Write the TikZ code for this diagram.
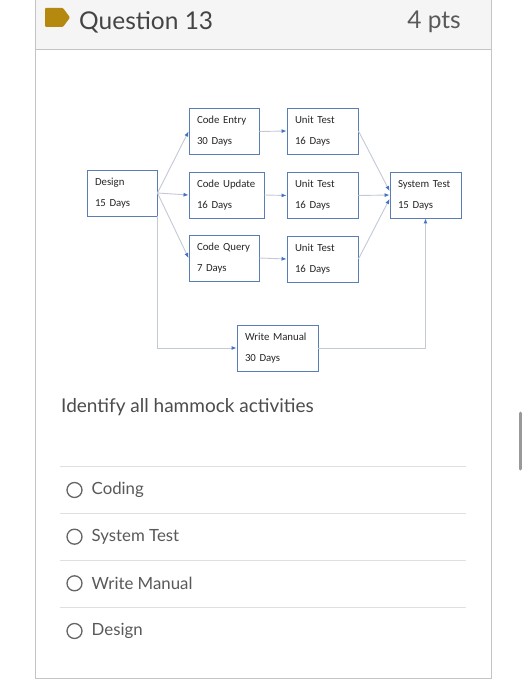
\documentclass[tikz,border=0pt]{standalone}
\usepackage{fontspec}
\setmainfont{Lato}
\newfontfamily\chartfont{Carlito}
\usetikzlibrary{arrows.meta,positioning}
\definecolor{tagfill}{HTML}{B5890F}
\definecolor{headfill}{HTML}{F5F5F5}
\definecolor{cardline}{HTML}{C4C4C4}
\definecolor{rulegray}{HTML}{E0E0E0}
\definecolor{boxblue}{HTML}{5B7DB5}
\definecolor{linkgray}{HTML}{C3CAD6}
\definecolor{tipblue}{HTML}{4472C4}
\definecolor{ink}{HTML}{444444}
\tikzset{
  task/.style={
    draw=boxblue,
    line width=0.9pt,
    fill=white,
    font=\chartfont\fontsize{10.8}{21}\selectfont,
    text=black!85,
    align=left,
    minimum height=46pt,
    inner xsep=8pt,
    inner ysep=0pt
  },
  link/.style={draw=linkgray, line width=0.9pt, -{Latex[length=5pt,width=4pt,color=tipblue]}},
  heading/.style={font=\fontsize{24.5}{28}\selectfont, text=ink, inner sep=0pt},
  prompt/.style={font=\fontsize{19}{23}\selectfont, text=black!70, anchor=west, inner sep=0pt},
  answer/.style={font=\fontsize{16.8}{20}\selectfont, text=black!65, anchor=west, inner sep=0pt},
  radio/.style={circle, draw=black!60, line width=1.3pt, minimum size=15pt, inner sep=0pt},
  sepline/.style={draw=rulegray, line width=1pt}
}
\newcommand{\choice}[3]{%
  \node[radio] (#1dot) at (74.5,#3) {};
  \node[answer] (#1) at (91.5,#3) {#2};
}

\begin{document}
\begin{tikzpicture}[x=1pt,y=-1pt]
\useasboundingbox (0,0) rectangle (528,700);
\fill[white] (0,0) rectangle (528,700);

% card and header
\fill[headfill] (35,0) rectangle (491.5,50);
\draw[cardline, line width=1pt] (35,0) -- (35,678) -- (491.5,678) -- (491.5,0);
\draw[cardline, line width=1pt] (35,50) -- (491.5,50);
\fill[tagfill, rounded corners=1pt] (45,8) -- (63,8) -- (70,17.5) -- (63,27) -- (45,27) -- cycle;
\node[heading, anchor=west] (qtitle) at (79,22) {Question 13};
\node[heading, anchor=east, text=black!65] (points) at (461,22) {4 pts};

% network
\node[task, text width=54pt] (design) at (122,193) {Design\\15 Days};
\node[task, text width=54pt] (entry) at (224,131.5) {Code Entry\\30 Days};
\node[task, text width=59pt] (update) at (226.5,195) {Code Update\\16 Days};
\node[task, text width=54pt] (query) at (224,258) {Code Query\\7 Days};
\node[task, text width=55pt] (unitA) at (322.5,131) {Unit Test\\16 Days};
\node[task, text width=55pt] (unitB) at (322.5,195.5) {Unit Test\\16 Days};
\node[task, text width=55pt] (unitC) at (322.5,259) {Unit Test\\16 Days};
\node[task, text width=55pt] (systest) at (425.5,195) {System Test\\15 Days};
\node[task, text width=65pt] (manual) at (277.5,348) {Write Manual\\30 Days};

\draw[link] (design.east) -- (entry.west);
\draw[link] (design.east) -- (update.west);
\draw[link] (design.east) -- (query.west);
\draw[link] (entry.east) -- (unitA.west);
\draw[link] (update.east) -- (unitB.west);
\draw[link] (query.east) -- (unitC.west);
\draw[link] (unitA.east) -- ([yshift=4pt]systest.west);
\draw[link] (unitB.east) -- (systest.west);
\draw[link] (unitC.east) -- ([yshift=-4pt]systest.west);
\draw[link] (design.south east) |- (manual.west);
\draw[link] (manual.east) -| (systest.south);

% question
\node[prompt] (ask) at (61,407) {Identify all hammock activities};
\draw[sepline] (60,466.5) -- (466,466.5);
\draw[sepline] (60,513.3) -- (466,513.3);
\draw[sepline] (60,560) -- (466,560);
\draw[sepline] (60,607.3) -- (466,607.3);
\choice{coding}{Coding}{490}
\choice{system}{System Test}{536.7}
\choice{writing}{Write Manual}{583.3}
\choice{designing}{Design}{631}

% scroll bar
\draw[black!40, line width=3pt, line cap=round] (520.5,413) -- (520.5,469);

\end{tikzpicture}
\end{document}
